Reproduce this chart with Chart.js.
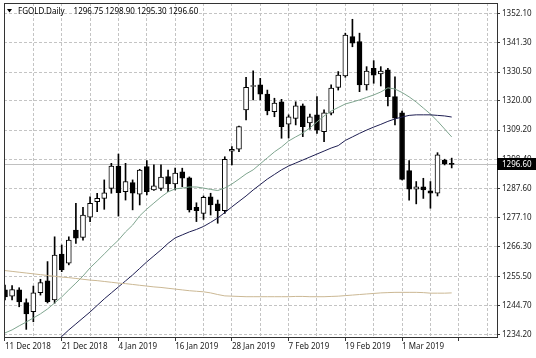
<!DOCTYPE html>
<html><head><meta charset="utf-8">
<script src="https://cdn.jsdelivr.net/npm/chart.js@4/dist/chart.umd.min.js"></script>
<style>html,body{margin:0;padding:0;background:#fff;}#wrap{width:536px;height:358px;position:relative;}</style>
</head><body><div id="wrap"><canvas id="c" width="536" height="358"></canvas></div>
<script>
const symbolTitle = "FGOLD.Daily";
const dateLabels = ["11 Dec 2018","21 Dec 2018","4 Jan 2019","16 Jan 2019","28 Jan 2019","7 Feb 2019","19 Feb 2019","1 Mar 2019"];
const barsPerLabel = 8;
const barsPerGrid = 4;
const yTicks = [1352.10,1341.30,1330.50,1320.00,1309.20,1298.40,1287.60,1277.10,1266.30,1255.50,1244.70,1234.20];

const opens  = [1250.5,1248.2,1250.5,1245.8,1242.5,1249.5,1253.8,1246.8,1263.7,1260.3,1272.5,1269.8,1277.2,1282.9,1284.1,1287.8,1296.0,1286.6,1289.9,1285.7,1295.8,1287.2,1287.8,1292.1,1289.4,1293.9,1291.7,1280.8,1278.6,1284.7,1282.1,1279.6,1301.5,1302.2,1316.6,1325.2,1325.8,1322.4,1316.0,1319.6,1311.4,1313.5,1318.1,1311.8,1314.8,1308.6,1315.4,1324.9,1329.1,1343.5,1341.7,1325.8,1331.9,1329.8,1331.3,1321.5,1315.5,1294.3,1287.5,1288.4,1286.9,1286.0,1298.2,1296.75];
const highs  = [1252.3,1252.1,1251.3,1247.2,1251.9,1254.4,1260.9,1270.0,1267.0,1270.0,1282.3,1280.8,1284.7,1286.0,1290.9,1297.0,1300.4,1297.0,1290.9,1294.8,1298.0,1296.4,1296.4,1294.5,1295.2,1295.2,1292.0,1282.5,1285.0,1286.0,1283.5,1299.4,1303.1,1310.7,1328.6,1331.0,1328.2,1323.9,1320.9,1320.5,1314.8,1319.6,1318.8,1315.1,1321.5,1316.6,1325.8,1330.7,1344.8,1349.9,1344.8,1332.5,1334.7,1332.5,1331.9,1328.8,1316.2,1298.0,1290.3,1291.5,1290.3,1300.9,1298.5,1298.90];
const lows   = [1246.8,1246.8,1244.3,1236.0,1238.8,1248.6,1245.7,1245.6,1257.2,1259.7,1267.6,1268.8,1275.6,1279.2,1280.1,1286.0,1277.6,1283.5,1279.9,1281.7,1285.4,1287.0,1287.0,1286.6,1287.2,1288.4,1279.1,1275.6,1276.4,1278.0,1275.0,1278.6,1296.4,1301.3,1312.9,1320.3,1320.3,1314.8,1314.1,1306.2,1306.3,1311.1,1306.8,1309.5,1308.0,1304.9,1314.8,1323.9,1328.6,1339.8,1323.3,1323.9,1326.4,1325.4,1318.1,1311.1,1290.9,1283.5,1282.1,1284.1,1280.5,1285.0,1296.4,1295.30];
const closes = [1247.9,1250.6,1246.1,1241.7,1249.4,1253.2,1246.2,1263.3,1257.8,1268.8,1269.5,1278.0,1282.3,1284.1,1286.2,1296.0,1286.2,1290.3,1286.0,1294.5,1286.6,1288.7,1291.9,1289.4,1293.4,1291.5,1279.9,1279.6,1284.5,1281.7,1279.6,1298.5,1302.1,1310.5,1324.9,1325.5,1322.4,1316.2,1319.1,1310.5,1314.1,1318.1,1310.5,1314.1,1309.2,1315.5,1324.6,1329.4,1344.1,1341.1,1325.8,1330.9,1329.4,1330.9,1321.5,1313.6,1291.1,1287.5,1288.4,1287.2,1286.0,1300.1,1296.8,1296.60];

const maFast = [1234.7,1235.8,1237.3,1238.7,1240.2,1241.7,1243.5,1245.7,1247.9,1250.5,1253.0,1255.6,1258.6,1261.1,1263.7,1266.3,1268.8,1271.8,1274.3,1277.7,1280.2,1282.4,1284.6,1286.5,1287.6,1287.9,1288.3,1288.3,1287.9,1287.4,1287.0,1287.9,1289.4,1291.2,1293.1,1294.6,1296.8,1299.0,1301.2,1303.0,1305.2,1306.7,1308.1,1310.0,1312.2,1314.4,1316.2,1317.5,1318.8,1319.5,1320.3,1321.2,1322.1,1323.2,1324.7,1324.3,1323.0,1321.4,1319.5,1317.3,1315.1,1312.5,1309.6,1306.7];
const maMid = [null,null,null,null,null,null,null,1231.2,1233.4,1235.8,1238.0,1240.2,1242.4,1244.8,1247.2,1249.4,1251.6,1253.8,1256.0,1258.4,1260.8,1263.0,1265.2,1267.6,1269.6,1270.7,1271.8,1272.7,1273.8,1275.3,1276.9,1278.9,1281.0,1283.0,1285.0,1287.2,1289.2,1291.2,1292.9,1294.6,1296.0,1297.1,1298.2,1299.3,1300.4,1301.5,1302.6,1303.5,1305.4,1306.7,1308.0,1309.2,1310.3,1311.3,1312.4,1313.3,1314.0,1314.6,1314.8,1314.8,1314.8,1314.6,1314.4,1314.0];
const maSlow = [1257.6,1257.3,1257.0,1256.7,1256.4,1256.1,1255.8,1255.5,1255.2,1255.0,1254.7,1254.4,1254.1,1253.9,1253.6,1253.3,1253.0,1252.8,1252.5,1252.2,1251.9,1251.6,1251.4,1251.1,1250.8,1250.5,1250.2,1250.0,1249.8,1249.4,1248.8,1248.3,1248.2,1248.1,1248.0,1248.0,1248.0,1248.0,1248.0,1248.0,1248.0,1248.1,1248.1,1248.0,1248.0,1248.0,1248.1,1248.2,1248.4,1248.6,1248.8,1249.0,1249.2,1249.4,1249.5,1249.6,1249.6,1249.6,1249.6,1249.5,1249.3,1249.3,1249.3,1249.4];

const N = closes.length;
const idx = closes.map((_, i) => i);
const wickData = idx.map(i => ({x: i, y: [lows[i], highs[i]]}));
const bodyData = idx.map(i => ({x: i, y: [opens[i], closes[i]]}));
const bodyColors = idx.map(i => closes[i] >= opens[i] ? '#ffffff' : '#000000');
const asLine = arr => arr.map((v, i) => ({x: i, y: v}));

const FONT = '"Noto Sans", "Liberation Sans", sans-serif';

const decor = {
  id: 'decor',
  beforeDatasetsDraw(chart) {
    const {ctx, chartArea: a, scales: {y}} = chart;
    const py = Math.round(y.getPixelForValue(closes[N - 1])) + 0.5;
    ctx.save();
    ctx.strokeStyle = '#c0c0c0';
    ctx.lineWidth = 1;
    ctx.beginPath(); ctx.moveTo(a.left, py); ctx.lineTo(a.right, py); ctx.stroke();
    ctx.restore();
  },
  afterDraw(chart) {
    const {ctx, chartArea: a, scales: {y}} = chart;
    ctx.save();
    ctx.strokeStyle = '#333';
    ctx.lineWidth = 1;
    ctx.strokeRect(a.left + 0.5, a.top + 0.5, a.right - a.left, a.bottom - a.top);
    const py = Math.round(y.getPixelForValue(closes[N - 1]));
    ctx.fillStyle = '#000';
    ctx.fillRect(a.right, py - 6, chart.width - a.right, 12);
    ctx.fillStyle = '#fff';
    ctx.font = '8px ' + FONT;
    ctx.textBaseline = 'middle';
    ctx.textAlign = 'left';
    ctx.fillText(closes[N - 1].toFixed(2), a.right + 5, py + 0.5);
    ctx.fillStyle = '#000';
    ctx.beginPath(); ctx.moveTo(7, 9); ctx.lineTo(12, 9); ctx.lineTo(9.5, 12.5); ctx.closePath(); ctx.fill();
    ctx.font = '8px ' + FONT;
    ctx.fillText(symbolTitle, 18, 11.5);
    const w = ctx.measureText(symbolTitle).width;
    const vals = [opens[N-1], highs[N-1], lows[N-1], closes[N-1]].map(v => v.toFixed(2)).join(' ');
    ctx.fillText(vals, 18 + w + 9, 11.5);
    ctx.restore();
  }
};

new Chart(document.getElementById('c'), {
  type: 'bar',
  data: {
    datasets: [
      {type: 'line', data: asLine(maSlow), borderColor: '#cbb894', borderWidth: 1, pointRadius: 0, tension: 0, order: 0},
      {type: 'line', data: asLine(maMid), borderColor: '#1e1e52', borderWidth: 1, pointRadius: 0, tension: 0, order: 0},
      {type: 'line', data: asLine(maFast), borderColor: '#7fa58f', borderWidth: 1, pointRadius: 0, tension: 0, order: 0},
      {data: bodyData, backgroundColor: bodyColors, borderColor: '#000', borderWidth: 1, borderSkipped: false, barThickness: 5, grouped: false, minBarLength: 1, order: 1},
      {data: wickData, backgroundColor: '#000', borderWidth: 0, barThickness: 1, grouped: false, order: 2}
    ]
  },
  options: {
    animation: false,
    responsive: false,
    devicePixelRatio: 1,
    layout: {padding: {left: 4, top: 3, right: 0, bottom: 0}},
    plugins: {legend: {display: false}, tooltip: {enabled: false}, title: {display: false}},
    scales: {
      x: {
        type: 'linear', min: -0.14, max: 69.39, offset: false, position: 'bottom',
        afterBuildTicks: s => { const t = []; for (let v = 0; v <= 68; v += barsPerGrid) t.push({value: v}); s.ticks = t; },
        afterFit: s => { s.height = 21; s.paddingLeft = 0; s.paddingRight = 0; },
        ticks: {
          autoSkip: false, maxRotation: 0, align: 'start', padding: 1, color: '#222',
          font: {family: FONT, size: 8},
          callback: v => (v % barsPerLabel === 0 && dateLabels[v / barsPerLabel]) ? dateLabels[v / barsPerLabel] : ''
        },
        grid: {
          color: '#c4c4c4', lineWidth: 1, tickLength: 4, offset: false,
          tickColor: c => (c.tick && c.tick.value % barsPerLabel === 0) ? '#333' : 'rgba(0,0,0,0)'
        },
        border: {display: true, color: '#333', width: 1, dash: [3, 2]}
      },
      y: {
        type: 'linear', position: 'right', min: 1233.2, max: 1355.88, beginAtZero: false,
        afterBuildTicks: s => { s.ticks = yTicks.map(v => ({value: v})); },
        afterFit: s => { s.width = 39; s.paddingTop = 0; s.paddingBottom = 0; },
        ticks: {autoSkip: false, padding: 2, color: '#222', font: {family: FONT, size: 8}, callback: v => Number(v).toFixed(2)},
        grid: {color: '#c4c4c4', lineWidth: 1, tickLength: 3, tickColor: '#333'},
        border: {display: true, color: '#333', width: 1, dash: [3, 2]}
      }
    }
  },
  plugins: [decor]
});
</script>
</body></html>
